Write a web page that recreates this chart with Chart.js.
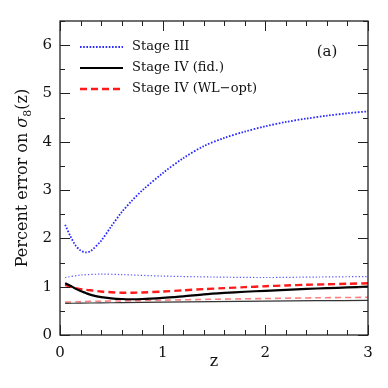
<!DOCTYPE html>
<html>
<head>
<meta charset="utf-8">
<script src="https://cdn.jsdelivr.net/npm/chart.js@4.4.0/dist/chart.umd.min.js"></script>
<style>
html, body { margin: 0; padding: 0; background: #fff; }
</style>
</head>
<body>
<canvas id="chart" width="388" height="388"></canvas>
<script>
// redshift grid for the thick curves
const zMain = [0.05, 0.1, 0.15, 0.2, 0.25, 0.3, 0.4, 0.5, 0.6, 0.7, 0.8, 1.0, 1.2, 1.4, 1.6, 1.8, 2.0, 2.2, 2.4, 2.6, 2.8, 3.0];
// Stage III (upper, thick dotted)
const stage3 = [2.28, 2.05, 1.86, 1.75, 1.71, 1.74, 1.95, 2.25, 2.54, 2.78, 2.99, 3.35, 3.66, 3.91, 4.08, 4.21, 4.32, 4.41, 4.48, 4.54, 4.59, 4.63];
// Stage IV fiducial (thick solid)
const stage4Fid = [1.07, 1.02, 0.96, 0.91, 0.87, 0.83, 0.785, 0.76, 0.745, 0.74, 0.745, 0.77, 0.80, 0.84, 0.87, 0.895, 0.915, 0.935, 0.955, 0.97, 0.985, 1.0];
// Stage IV WL-opt (thick dashed)
const stage4Opt = [1.04, 1.0, 0.97, 0.95, 0.935, 0.925, 0.90, 0.885, 0.875, 0.875, 0.88, 0.90, 0.925, 0.95, 0.97, 0.99, 1.01, 1.025, 1.04, 1.05, 1.06, 1.07];

// thinner companion curves
const zThin = [0.05, 0.2, 0.4, 0.6, 1.0, 1.5, 2.0, 2.5, 3.0];
const stage3Thin = [1.19, 1.24, 1.26, 1.25, 1.22, 1.20, 1.19, 1.20, 1.21];
const stage4FidThin = [0.655, 0.66, 0.665, 0.67, 0.68, 0.69, 0.70, 0.71, 0.715];
const stage4OptThin = [0.68, 0.69, 0.70, 0.705, 0.72, 0.74, 0.755, 0.77, 0.78];

const xTicks = [0, 1, 2, 3];
const yTicks = [0, 1, 2, 3, 4, 5, 6];
const legendLabels = ['Stage III', 'Stage IV (fid.)', 'Stage IV (WL\u2212opt)'];

function pts(xs, ys) {
    return xs.map((x, i) => ({ x: x, y: ys[i] }));
}

const FONT = 'DejaVu Serif';

// frame, inward ticks, legend and axis titles
const decorations = {
    id: 'decorations',
    afterDatasetsDraw(chart) {
        const ctx = chart.ctx;
        const a = chart.chartArea;
        const xs = chart.scales.x, ys = chart.scales.y;
        ctx.save();
        ctx.strokeStyle = '#222';
        ctx.lineWidth = 1.3;
        ctx.strokeRect(a.left, a.top, a.right - a.left, a.bottom - a.top);

        ctx.lineWidth = 1;
        ctx.beginPath();
        for (let i = 0; i <= 15; i++) {
            const v = i * 0.2;
            const px = Math.round(xs.getPixelForValue(v)) + 0.5;
            const len = (i % 5 === 0) ? 10 : 5;
            ctx.moveTo(px, a.bottom); ctx.lineTo(px, a.bottom - len);
            ctx.moveTo(px, a.top); ctx.lineTo(px, a.top + len);
        }
        for (let i = 0; i <= 13; i++) {
            const v = i * 0.5;
            const py = Math.round(ys.getPixelForValue(v)) + 0.5;
            const len = (i % 2 === 0) ? 10 : 5;
            ctx.moveTo(a.left, py); ctx.lineTo(a.left + len, py);
            ctx.moveTo(a.right, py); ctx.lineTo(a.right - len, py);
        }
        ctx.stroke();

        // legend
        const rows = [47, 68, 89];
        const sets = chart.data.datasets;
        ctx.font = '13px "' + FONT + '"';
        ctx.textBaseline = 'middle';
        ctx.fillStyle = '#111';
        for (let i = 0; i < 3; i++) {
            const ds = sets[i];
            ctx.beginPath();
            ctx.strokeStyle = ds.borderColor;
            ctx.lineWidth = ds.borderWidth;
            ctx.setLineDash(ds.borderDash || []);
            ctx.moveTo(80, rows[i]); ctx.lineTo(123, rows[i]);
            ctx.stroke();
            ctx.setLineDash([]);
            ctx.fillText(legendLabels[i], 132, rows[i]);
        }
        ctx.font = '15px "' + FONT + '"';
        ctx.textAlign = 'center';
        ctx.fillText('(a)', 327, 52);

        // y title
        ctx.translate(23, 178);
        ctx.rotate(-Math.PI / 2);
        const main = 'Percent error on ';
        ctx.font = '16px "' + FONT + '"';
        const w1 = ctx.measureText(main).width;
        ctx.font = 'italic 16px "' + FONT + '"';
        const w2 = ctx.measureText('\u03c3').width;
        ctx.font = '11px "' + FONT + '"';
        const w3 = ctx.measureText('8').width;
        ctx.font = '16px "' + FONT + '"';
        const w4 = ctx.measureText('(z)').width;
        let x0 = -(w1 + w2 + w3 + w4) / 2;
        ctx.textAlign = 'left';
        ctx.fillText(main, x0, 0);
        x0 += w1;
        ctx.font = 'italic 16px "' + FONT + '"';
        ctx.fillText('\u03c3', x0, 0);
        x0 += w2;
        ctx.font = '11px "' + FONT + '"';
        ctx.fillText('8', x0, 5);
        x0 += w3;
        ctx.font = '16px "' + FONT + '"';
        ctx.fillText('(z)', x0, 0);
        ctx.restore();
    }
};

new Chart(document.getElementById('chart'), {
    type: 'line',
    data: {
        datasets: [
            { label: legendLabels[0], data: pts(zMain, stage3), borderColor: '#2828ff', borderWidth: 1.8, borderDash: [1.6, 1.6] },
            { label: legendLabels[1], data: pts(zMain, stage4Fid), borderColor: '#000', borderWidth: 2.2 },
            { label: legendLabels[2], data: pts(zMain, stage4Opt), borderColor: '#ff1a1a', borderWidth: 2.4, borderDash: [7, 4] },
            { label: 'Stage III thin', data: pts(zThin, stage3Thin), borderColor: '#5a5aff', borderWidth: 1.2, borderDash: [1.3, 2] },
            { label: 'Stage IV fid thin', data: pts(zThin, stage4FidThin), borderColor: '#333', borderWidth: 1.2 },
            { label: 'Stage IV opt thin', data: pts(zThin, stage4OptThin), borderColor: '#ff8080', borderWidth: 1.6, borderDash: [6, 4] }
        ]
    },
    options: {
        responsive: false,
        animation: false,
        layout: { padding: { top: 21, right: 20, left: 0, bottom: 0 } },
        elements: { point: { radius: 0 }, line: { tension: 0.3, fill: false } },
        plugins: { legend: { display: false }, tooltip: { enabled: false } },
        scales: {
            x: {
                type: 'linear', min: 0, max: 3,
                afterFit: s => { s.height = 53; },
                afterBuildTicks: s => { s.ticks = xTicks.map(v => ({ value: v })); },
                grid: { display: false, drawTicks: false },
                border: { display: false },
                ticks: { padding: 9, color: '#111', font: { family: FONT, size: 15 }, maxRotation: 0 },
                title: { display: true, text: 'z', color: '#111', font: { family: FONT, size: 16 }, padding: { bottom: 17 } }
            },
            y: {
                type: 'linear', min: 0, max: 6.5,
                afterFit: s => { s.width = 60; },
                afterBuildTicks: s => { s.ticks = yTicks.map(v => ({ value: v })); },
                grid: { display: false, drawTicks: false },
                border: { display: false },
                ticks: { padding: 8, color: '#111', font: { family: FONT, size: 15 } }
            }
        }
    },
    plugins: [decorations]
});
</script>
</body>
</html>
